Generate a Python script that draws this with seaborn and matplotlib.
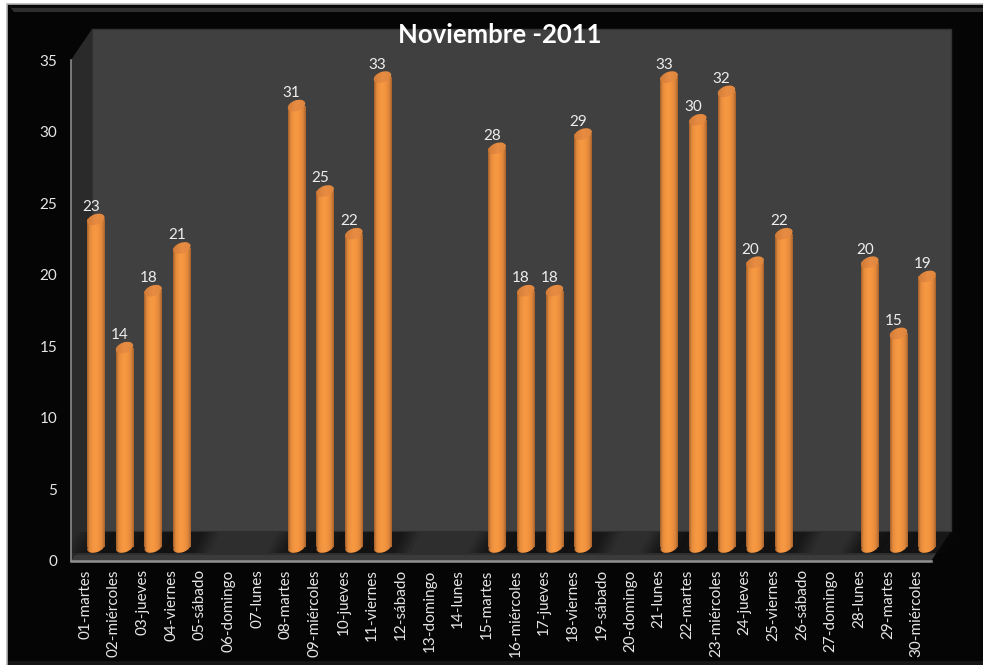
import numpy as np
import pandas as pd
import matplotlib
matplotlib.use("Agg")
import matplotlib.pyplot as plt
from matplotlib.colors import LinearSegmentedColormap
from matplotlib.patches import Ellipse, Polygon, Rectangle
from matplotlib.transforms import Affine2D
import seaborn as sns

# values, empty days are NaN
days = ["01-martes", "02-miércoles", "03-jueves", "04-viernes", "05-sábado", "06-domingo",
        "07-lunes", "08-martes", "09-miércoles", "10-jueves", "11-viernes", "12-sábado",
        "13-domingo", "14-lunes", "15-martes", "16-miércoles", "17-jueves", "18-viernes",
        "19-sábado", "20-domingo", "21-lunes", "22-martes", "23-miércoles", "24-jueves",
        "25-viernes", "26-sábado", "27-domingo", "28-lunes", "29-martes", "30-miércoles"]
values = [23, 14, 18, 21, np.nan, np.nan, np.nan, 31, 25, 22, 33, np.nan, np.nan, np.nan, 28,
          18, 18, 29, np.nan, np.nan, 33, 30, 32, 20, 22, np.nan, np.nan, 20, 15, 19]
yticks = [0, 5, 10, 15, 20, 25, 30, 35]
title = "Noviembre -2011"

sns.set_style("dark")
plt.rcParams["font.family"] = ["Lato", "DejaVu Sans"]

W, H = 983, 665
fig = plt.figure(figsize=(W / 100, H / 100), dpi=100, facecolor="white")

# background drawn in pixel coordinates
bg = fig.add_axes([0, 0, 1, 1], zorder=0)
bg.set_xlim(0, W)
bg.set_ylim(H, 0)
bg.axis("off")
bg.add_patch(Rectangle((7, 4), W, H, fc="#050505", ec="#b5b5b5", lw=1.2))
bg.add_patch(Polygon([(9, 6), (W, 6), (W, 12), (14, 12)], fc="#2e2e2e", ec="none"))
bg.add_patch(Polygon([(9, 6), (W, 6), (W, 8), (11, 8)], fc="#0a0a0a", ec="none"))
bg.add_patch(Rectangle((8, 661), W, 4, fc="#151515", ec="none"))

# 3d walls
bg.add_patch(Polygon([(92, 29), (951, 29), (951, 531), (92, 531)], fc="#404040", ec="#333333", lw=1))
bg.add_patch(Polygon([(71, 60), (92, 29), (92, 531), (71, 561)], fc="#2a2a2a", ec="none"))
bg.add_patch(Polygon([(71, 561), (92, 531), (951, 531), (931, 561)], fc="#2e2e2e", ec="none"))
bg.add_patch(Polygon([(71, 561), (75, 555), (935, 555), (931, 561)], fc="#3a3a3a", ec="none"))

# front axes with the ticks
ax = fig.add_axes([71 / W, (H - 561) / H, 860 / W, 501 / H], zorder=1)
ax.patch.set_visible(False)
ax.set_xlim(-0.5, 29.5)
ax.set_ylim(0, 35)
ax.set_yticks(yticks)
ax.set_xticks(range(len(days)))
ax.set_xticklabels(days, rotation=90, color="#e6e6e6", fontsize=11)
ax.tick_params(axis="y", length=0, pad=10, labelsize=11, labelcolor="#e6e6e6")
ax.tick_params(axis="x", length=0, pad=6)
ax.grid(False)
for side in ["top", "right"]:
    ax.spines[side].set_visible(False)
ax.spines["left"].set_color("#8a8a8a")
ax.spines["left"].set_linewidth(1.2)
ax.spines["bottom"].set_color("#909090")
ax.spines["bottom"].set_linewidth(1.8)

# bars sit further back on the floor, so they get their own shifted axes
df = pd.DataFrame({"day": days, "value": values})
bar_ax = fig.add_axes([81.5 / W, (H - 547) / H, 860 / W, 14.24 * 35 / H], zorder=2)
sns.barplot(data=df, x="day", y="value", color="#f29340", saturation=1, width=0.61,
            errorbar=None, ax=bar_ax)
bar_ax.set_xlim(-0.5, 29.5)
bar_ax.set_ylim(0, 35)
bar_ax.patch.set_visible(False)
bar_ax.axis("off")

cyl = LinearSegmentedColormap.from_list("cyl", ["#a4602c", "#e08a3c", "#f29340", "#f79842",
                                                "#f59641", "#ee8f3e", "#d9843a", "#a8632d"])
grad = np.linspace(0, 1, 64).reshape(1, -1)
top_cmap = LinearSegmentedColormap.from_list("top", ["#cf7a38", "#e88c42", "#dc853d"])


def pixel_ellipse(x, y, **kw):
    px = bar_ax.transData.transform((x, y))
    return Ellipse((0, 0), 18.2, 10.5, angle=20, transform=Affine2D().translate(*px), **kw)


for patch in list(bar_ax.patches):
    v = patch.get_height()
    if np.isnan(v) or v == 0:
        continue
    x0 = patch.get_x()
    w = patch.get_width()
    xc = x0 + w / 2
    patch.set_visible(False)

    # soft shadow on the floor around the base of the bar
    px, py = bar_ax.transData.transform((xc, 0))
    base = H - py
    for a, grow in zip([0.10, 0.14, 0.18, 0.22, 0.26], [16, 12, 8, 4, 0]):
        bg.add_patch(Polygon([(px - 14 - grow, base + 6), (px - 2 - grow, base - 15),
                              (px + 22 + grow, base - 15), (px + 12 + grow, base + 6)],
                             fc="#0c0c0c", ec="none", alpha=a))

    # cylinder body with a side to side gradient
    body = Rectangle((x0, 0), w, v, transform=bar_ax.transData, fc="none", ec="none")
    bar_ax.add_patch(body)
    im = bar_ax.imshow(grad, extent=(x0, x0 + w, 0, v), aspect="auto", cmap=cyl, zorder=3)
    im.set_clip_path(body)

    # rounded foot, hangs below y=0 so it clips to the figure and not the axes
    bottom = pixel_ellipse(xc, 0, fc="none", ec="none", clip_on=False)
    bar_ax.add_patch(bottom)
    im2 = bar_ax.imshow(grad, extent=(x0, x0 + w, -1, 1), aspect="auto", cmap=cyl, zorder=2.5)
    im2.set_clip_path(bottom)
    im2.set_clip_box(fig.bbox)

    top = pixel_ellipse(xc, v, fc="none", ec="none")
    bar_ax.add_patch(top)
    im3 = bar_ax.imshow(grad, extent=(x0 - 0.05, x0 + w + 0.05, v - 1, v + 1), aspect="auto",
                        cmap=top_cmap, zorder=4)
    im3.set_clip_path(top)

    bar_ax.annotate(f"{int(v)}", (xc, v), xytext=(-3.5, 9), textcoords="offset points",
                    ha="center", va="center", color="#eeeeee", fontsize=11, zorder=5)

bar_ax.set_xlim(-0.5, 29.5)
bar_ax.set_ylim(0, 35)

bg.text(500, 35, title, ha="center", va="center", color="white", fontsize=18.5, fontweight="bold")

fig.savefig("out.png", dpi=100, facecolor=fig.get_facecolor())
